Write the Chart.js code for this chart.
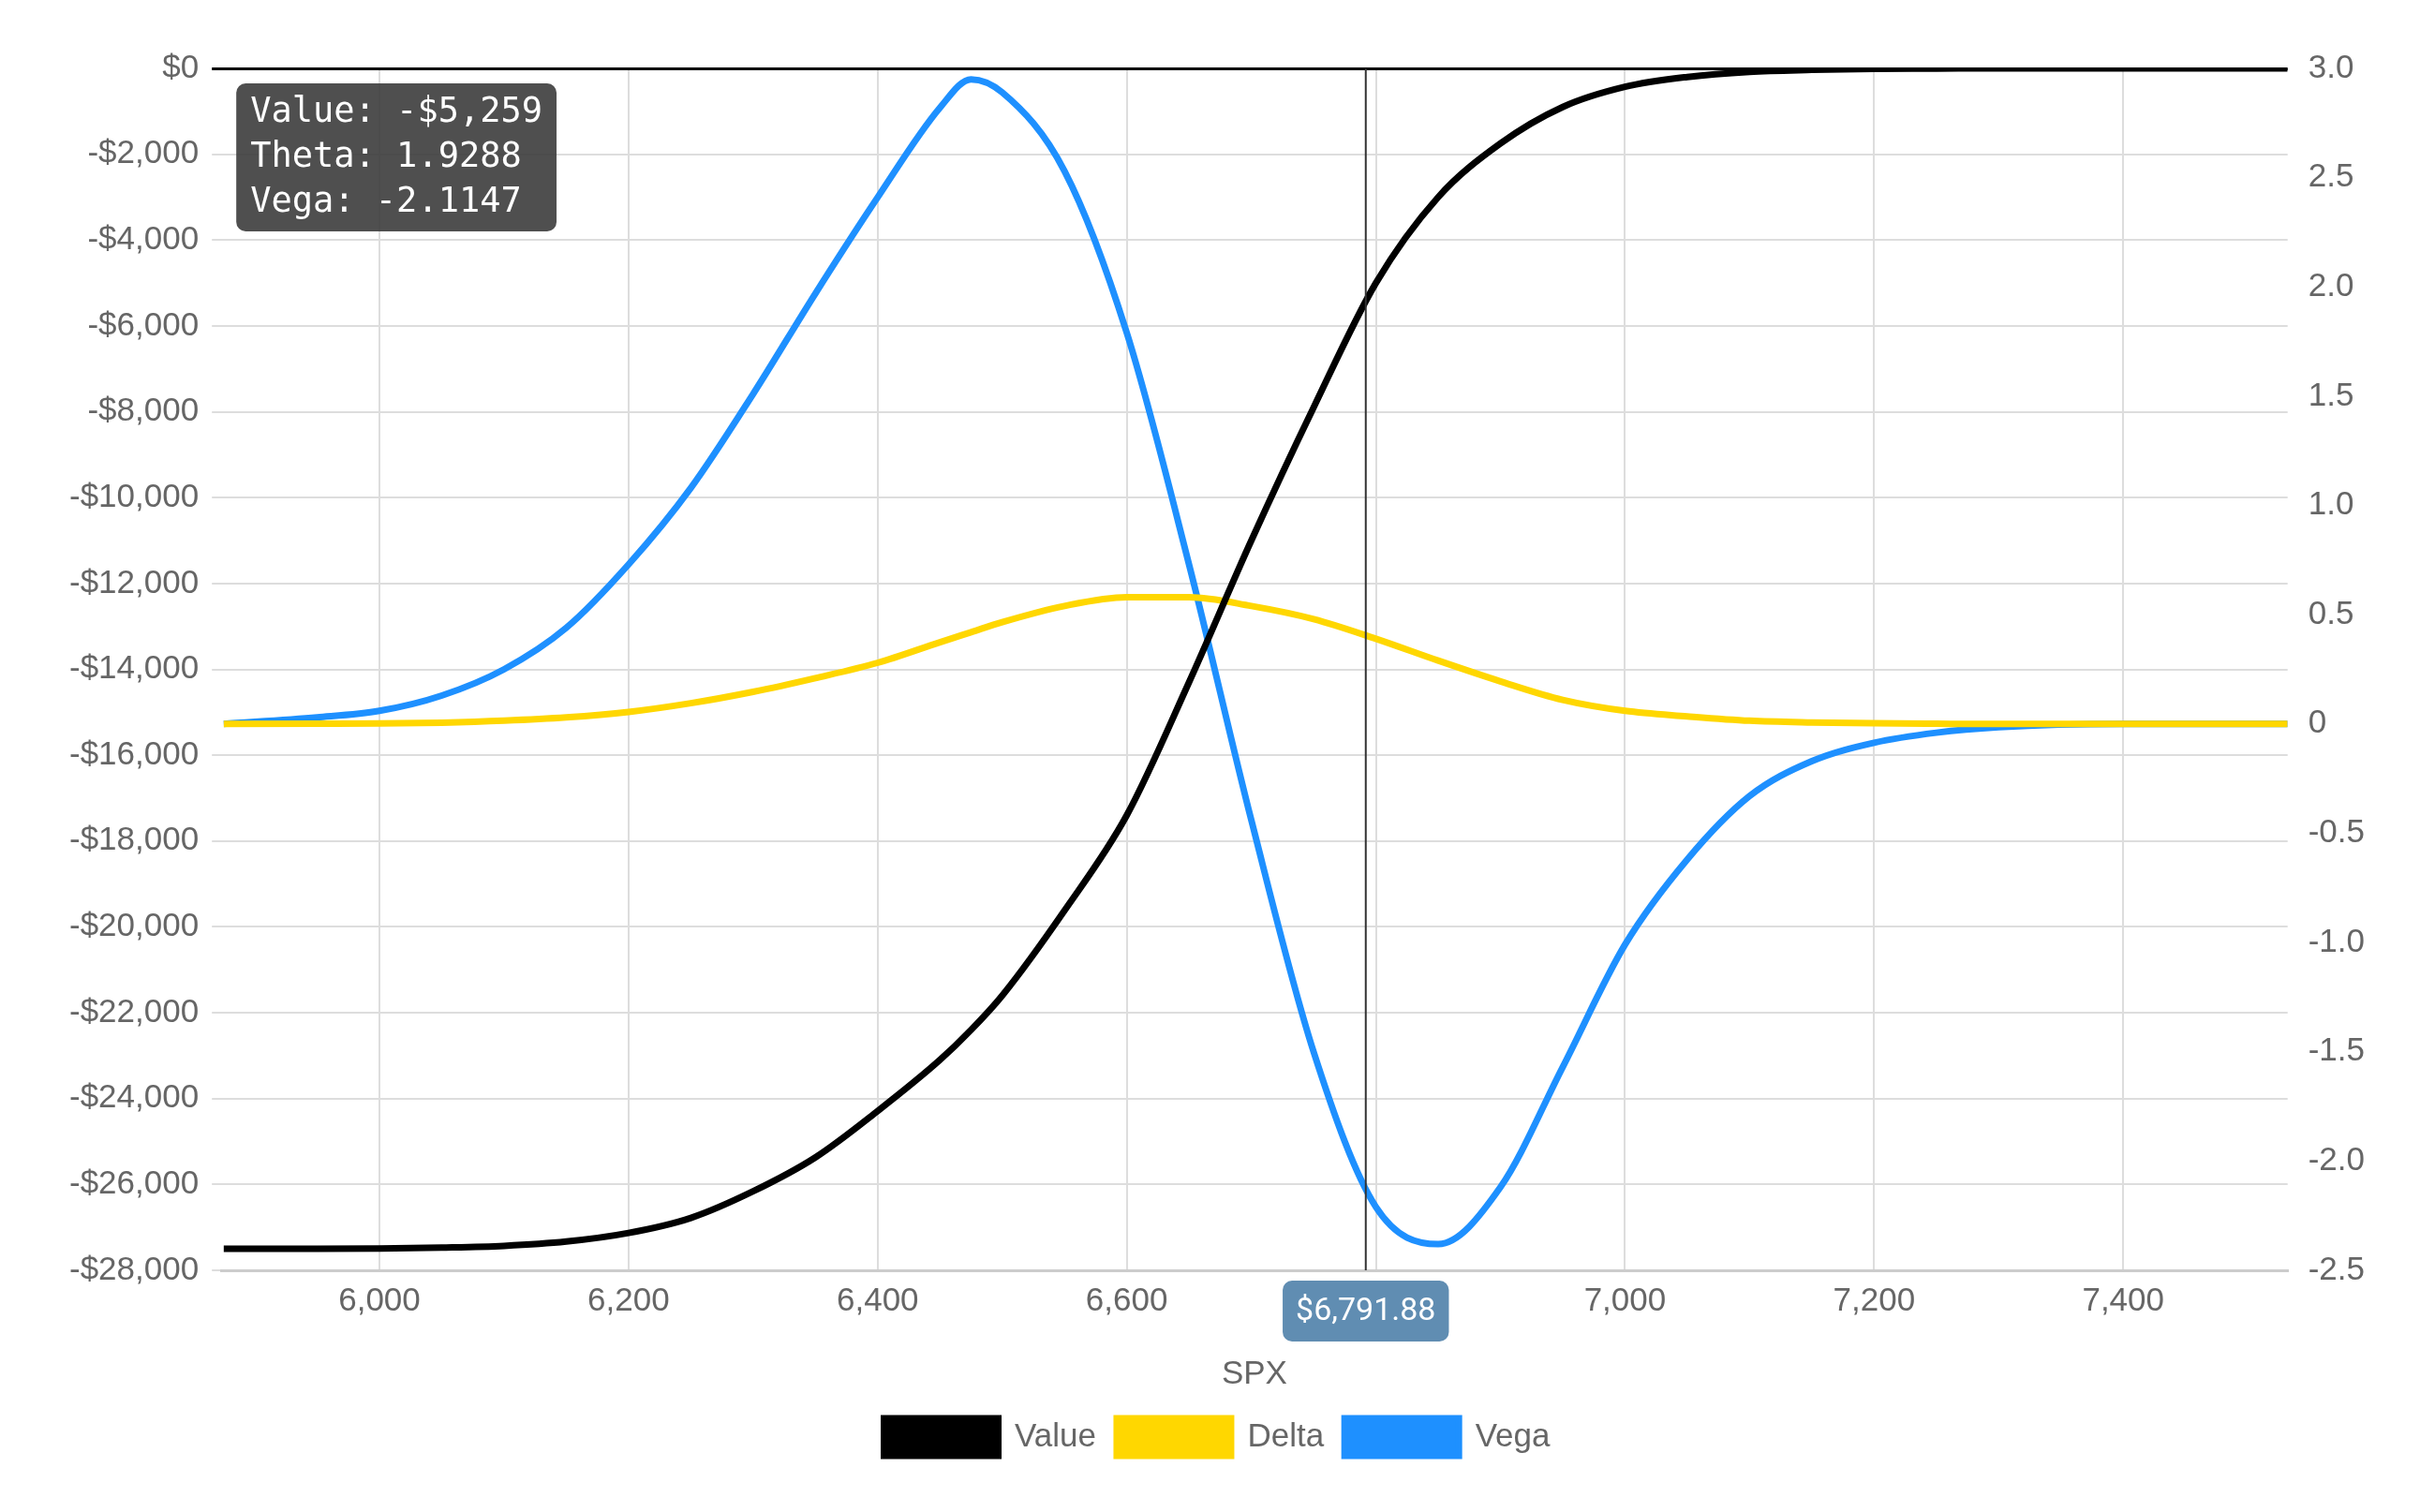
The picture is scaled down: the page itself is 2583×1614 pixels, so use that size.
<!DOCTYPE html>
<html><head><meta charset="utf-8">
<script src="https://cdn.jsdelivr.net/npm/chart.js@4"></script>
<style>html,body{margin:0;padding:0;background:#fff}#wrap{width:2583px;height:1614px}</style>
</head><body><div id="wrap"><canvas id="c"></canvas></div>
<script>
const spx = [5875,5950,6000,6050,6100,6150,6200,6250,6300,6350,6400,6450,6475,6500,6550,6600,6650,6700,6750,6800,6850,6900,6950,7000,7050,7100,7150,7200,7250,7300,7400,7532];
const valueSeries = [-27500,-27500,-27490,-27470,-27430,-27330,-27130,-26780,-26160,-25370,-24290,-23100,-22400,-21600,-19620,-17400,-14300,-11000,-7900,-5000,-3000,-1750,-900,-430,-200,-80,-35,-10,-4,0,0,0];
const deltaSeries = [0,0.001,0.002,0.006,0.015,0.03,0.055,0.095,0.147,0.21,0.28,0.374,0.42,0.466,0.54,0.58,0.58,0.54,0.48,0.39,0.29,0.195,0.11,0.06,0.035,0.015,0.007,0.003,0.001,0,0,0];
const vegaSeries = [0,0.03,0.06,0.13,0.25,0.44,0.73,1.08,1.51,1.97,2.41,2.82,2.95,2.89,2.53,1.79,0.73,-0.44,-1.50,-2.21,-2.38,-2.12,-1.57,-1.01,-0.62,-0.33,-0.17,-0.086,-0.04,-0.015,0,0];
const leftTicks = [0,-2000,-4000,-6000,-8000,-10000,-12000,-14000,-16000,-18000,-20000,-22000,-24000,-26000,-28000];
const rightTicks = [3.0,2.5,2.0,1.5,1.0,0.5,0,-0.5,-1.0,-1.5,-2.0,-2.5];
const xTicks = [6000,6200,6400,6600,6800,7000,7200,7400];
const cursorX = 6791.88;
const tipLines = ["Value: -$5,259","Theta: 1.9288","Vega: -2.1147"];

const pts = a => spx.map((x,i)=>({x, y:a[i]}));
const FONT = "'Liberation Sans', Arial, sans-serif";
const cursorPlugin = {
  id:'cursor',
  afterDraw(chart){
    const {ctx, chartArea:ca, scales} = chart;
    const px = scales.x.getPixelForValue(cursorX);
    ctx.save();
    ctx.strokeStyle='#333'; ctx.lineWidth=2;
    ctx.beginPath(); ctx.moveTo(px, ca.top); ctx.lineTo(px, ca.bottom); ctx.stroke();
    ctx.font = "34px Roboto, "+FONT;
    const lbl = "$"+cursorX.toLocaleString('en-US',{minimumFractionDigits:2});
    const w = ctx.measureText(lbl).width+28;
    ctx.fillStyle='rgb(96,141,178)';
    ctx.beginPath(); ctx.roundRect(px-w/2, ca.bottom+11, w, 65, 10); ctx.fill();
    ctx.fillStyle='#fff'; ctx.textAlign='center'; ctx.textBaseline='middle';
    ctx.fillText(lbl, px, ca.bottom+44);
    ctx.font = "37px 'DejaVu Sans Mono', monospace";
    let mw = 0; tipLines.forEach(t=>mw=Math.max(mw, ctx.measureText(t).width));
    const bx = ca.left+16, by = ca.top+16;
    ctx.fillStyle='rgba(60,60,60,0.9)';
    ctx.beginPath(); ctx.roundRect(bx, by, mw+30, 158, 10); ctx.fill();
    ctx.fillStyle='#fff'; ctx.textAlign='left';
    tipLines.forEach((t,i)=>ctx.fillText(t, bx+15, by+31+i*48));
    ctx.restore();
  }
};
new Chart(document.getElementById('c'), {
  type:'line',
  data:{datasets:[
    {label:'Value', data:pts(valueSeries), yAxisID:'y', borderColor:'#000', backgroundColor:'#000', borderWidth:7},
    {label:'Delta', data:pts(deltaSeries), yAxisID:'y1', borderColor:'#FFD700', backgroundColor:'#FFD700', borderWidth:7},
    {label:'Vega', data:pts(vegaSeries), yAxisID:'y1', borderColor:'#1E90FF', backgroundColor:'#1E90FF', borderWidth:7}
  ]},
  options:{
    responsive:true, maintainAspectRatio:false, animation:false, devicePixelRatio:1,
    layout:{padding:{left:60,right:45,top:73,bottom:50}},
    elements:{point:{radius:0}, line:{tension:0.4, cubicInterpolationMode:'monotone'}},
    plugins:{
      legend:{position:'bottom', labels:{boxWidth:122, boxHeight:40, font:{size:35, family:FONT}, color:'#666', padding:22}},
      tooltip:{enabled:false}
    },
    scales:{
      x:{type:'linear', min:5873, max:7532,
        title:{display:true, text:'SPX', font:{size:35, family:FONT}, color:'#666', padding:{top:24}},
        afterBuildTicks(ax){ax.ticks = xTicks.map(v=>({value:v}));},
        ticks:{font:{size:35, family:FONT}, color:'#666', padding:12, callback:v=>v.toLocaleString('en-US')},
        grid:{color:'#ddd', lineWidth:2, tickLength:0}, border:{color:'#ccc', width:3}},
      y:{position:'left', min:-28000, max:0,
        afterBuildTicks(ax){ax.ticks = leftTicks.map(v=>({value:v}));},
        ticks:{font:{size:35, family:FONT}, color:'#666', padding:14,
          callback:v=> (v<0?'-':'')+'$'+Math.abs(v).toLocaleString('en-US')},
        grid:{color:c=>c.tick && c.tick.value===0 ? '#000':'#ddd', lineWidth:c=>c.tick && c.tick.value===0 ? 3:2, tickLength:10},
        border:{display:false}},
      y1:{position:'right', min:-2.5, max:3.0,
        afterBuildTicks(ax){ax.ticks = rightTicks.map(v=>({value:v}));},
        ticks:{font:{size:35, family:FONT}, color:'#666', padding:14, callback:v=> v===0?'0':v.toFixed(1)},
        grid:{display:false}, border:{display:false}}
    }
  },
  plugins:[cursorPlugin]
});
</script></body></html>
